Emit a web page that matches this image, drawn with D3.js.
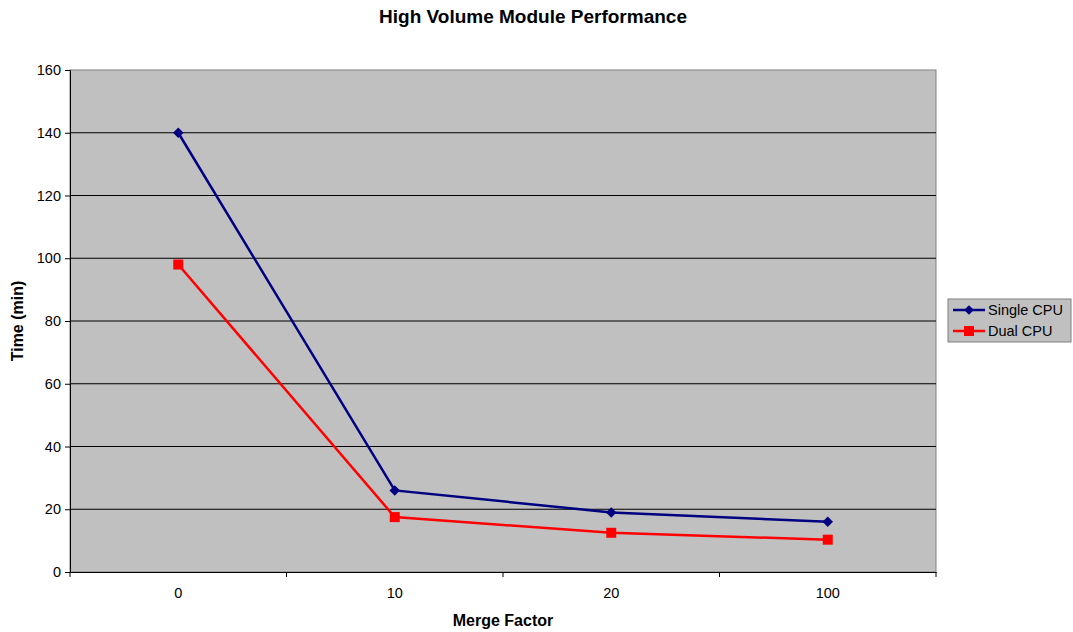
<!DOCTYPE html>
<html>
<head>
<meta charset="utf-8">
<script src="https://cdn.jsdelivr.net/npm/d3@7"></script>
<style>
  body { margin: 0; background: #fff; }
  text { font-family: "Liberation Sans", Arial, sans-serif; }
</style>
</head>
<body>
<script>
// chart data
const categories = ["0", "10", "20", "100"];
const singleCpu = [140, 26, 19, 16];
const dualCpu = [98, 17.5, 12.5, 10.3];
const yTicks = [0, 20, 40, 60, 80, 100, 120, 140, 160];

const width = 1073, height = 632;
const margin = { left: 70, top: 70, right: 137, bottom: 60 };
const plotW = width - margin.left - margin.right;
const plotH = height - margin.top - margin.bottom;

const svg = d3.select("body").append("svg")
    .attr("width", width)
    .attr("height", height);

const x = d3.scaleBand()
    .domain(categories)
    .range([0, plotW]);

const y = d3.scaleLinear()
    .domain([0, 160])
    .range([plotH, 0]);

const g = svg.append("g")
    .attr("transform", `translate(${margin.left},${margin.top})`);

// plot background
g.append("rect")
    .attr("width", plotW)
    .attr("height", plotH)
    .attr("fill", "#c0c0c0")
    .attr("stroke", "#808080")
    .attr("stroke-width", 1);

// gridlines
g.selectAll(".grid")
    .data(yTicks.slice(1, -1))
    .enter().append("line")
    .attr("x1", 0)
    .attr("x2", plotW)
    .attr("y1", d => y(d))
    .attr("y2", d => y(d))
    .attr("stroke", "#000")
    .attr("stroke-width", 1);

// y axis
const yAxis = g.append("g")
    .call(d3.axisLeft(y).tickValues(yTicks).tickSize(5).tickPadding(4));
yAxis.select(".domain").attr("stroke", "#000");
yAxis.selectAll("text").attr("font-size", 14.5).attr("fill", "#000");

// x axis: ticks on the category boundaries
const xAxis = g.append("g")
    .attr("transform", `translate(0,${plotH})`)
    .call(d3.axisBottom(x).tickSize(0).tickPadding(16));
xAxis.select(".domain").attr("stroke", "#000");
xAxis.selectAll("text").attr("font-size", 14.5).attr("fill", "#000");
xAxis.selectAll(".bound")
    .data(d3.range(categories.length + 1))
    .enter().append("line")
    .attr("x1", i => i * x.step())
    .attr("x2", i => i * x.step())
    .attr("y1", 0)
    .attr("y2", 5)
    .attr("stroke", "#000");

const cx = (d, i) => x(categories[i]) + x.bandwidth() / 2;
const line = d3.line().x(cx).y(d => y(d));

g.append("path")
    .attr("d", line(singleCpu))
    .attr("fill", "none")
    .attr("stroke", "#000080")
    .attr("stroke-width", 2.5);

g.append("path")
    .attr("d", line(dualCpu))
    .attr("fill", "none")
    .attr("stroke", "#ff0000")
    .attr("stroke-width", 2.5);

g.selectAll(".single")
    .data(singleCpu)
    .enter().append("path")
    .attr("d", d3.symbol(d3.symbolDiamond2, 70)())
    .attr("transform", (d, i) => `translate(${cx(d, i)},${y(d)})`)
    .attr("fill", "#000080");

g.selectAll(".dual")
    .data(dualCpu)
    .enter().append("rect")
    .attr("x", (d, i) => cx(d, i) - 5)
    .attr("y", d => y(d) - 5)
    .attr("width", 10)
    .attr("height", 10)
    .attr("fill", "#ff0000");

// titles
svg.append("text")
    .attr("x", 533)
    .attr("y", 23)
    .attr("text-anchor", "middle")
    .attr("font-size", 19)
    .attr("font-weight", "bold")
    .text("High Volume Module Performance");

svg.append("text")
    .attr("x", margin.left + plotW / 2)
    .attr("y", 626)
    .attr("text-anchor", "middle")
    .attr("font-size", 16)
    .attr("font-weight", "bold")
    .text("Merge Factor");

svg.append("text")
    .attr("transform", `translate(23,${margin.top + plotH / 2}) rotate(-90)`)
    .attr("text-anchor", "middle")
    .attr("font-size", 16)
    .attr("font-weight", "bold")
    .text("Time (min)");

// legend
const legend = svg.append("g").attr("transform", "translate(948,299)");
legend.append("rect")
    .attr("width", 123)
    .attr("height", 43)
    .attr("fill", "#c0c0c0")
    .attr("stroke", "#808080");

const series = [
    { name: "Single CPU", color: "#000080", shape: "diamond" },
    { name: "Dual CPU", color: "#ff0000", shape: "square" }
];
series.forEach((s, i) => {
    const ly = 11 + i * 21;
    legend.append("line")
        .attr("x1", 5).attr("x2", 37)
        .attr("y1", ly).attr("y2", ly)
        .attr("stroke", s.color)
        .attr("stroke-width", 2.5);
    if (s.shape === "diamond") {
        legend.append("path")
            .attr("d", d3.symbol(d3.symbolDiamond2, 60)())
            .attr("transform", `translate(21,${ly})`)
            .attr("fill", s.color);
    } else {
        legend.append("rect")
            .attr("x", 16).attr("y", ly - 5)
            .attr("width", 10).attr("height", 10)
            .attr("fill", s.color);
    }
    legend.append("text")
        .attr("x", 40)
        .attr("y", ly + 5)
        .attr("font-size", 14.5)
        .text(s.name);
});
</script>
</body>
</html>
